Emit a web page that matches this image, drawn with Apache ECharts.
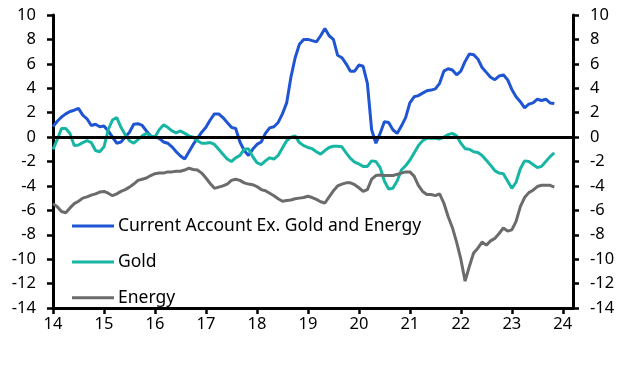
<!DOCTYPE html>
<html>
<head>
<meta charset="utf-8">
<script src="https://cdn.jsdelivr.net/npm/echarts@6/dist/echarts.min.js"></script>
<style>html,body{margin:0;padding:0;background:#fff}#c{width:633px;height:365px}</style>
</head>
<body>
<div id="c"></div>
<script>
const startYear = 14; // Jan 2014, monthly observations
const seriesNames = ['Current Account Ex. Gold and Energy', 'Gold', 'Energy'];
const xTickLabels = [14, 15, 16, 17, 18, 19, 20, 21, 22, 23, 24];
const yTickValues = [-14, -12, -10, -8, -6, -4, -2, 0, 2, 4, 6, 8, 10];

const currentAccount = [
  0.85, 1.3, 1.65, 1.9, 2.1, 2.2, 2.35, 1.8, 1.5, 0.95, 1.05, 0.85,
  0.9, 0.5, 0.0, -0.5, -0.4, 0.0, 0.4, 1.05, 1.1, 0.95, 0.5, 0.1,
  0.0, -0.1, -0.4, -0.5, -0.8, -1.2, -1.55, -1.8, -1.2, -0.6, -0.1, 0.4,
  0.8, 1.4, 1.9, 1.9, 1.6, 1.2, 0.8, 0.7, -0.4, -1.1, -1.5, -1.0,
  -0.6, -0.4, 0.3, 0.75, 0.85, 1.2, 1.9, 2.8, 4.9, 6.5, 7.6, 8.0,
  8.0, 7.9, 7.8, 8.3, 8.9, 8.3, 8.0, 6.7, 6.5, 6.0, 5.4, 5.4,
  5.9, 5.8, 4.4, 0.6, -0.5, 0.3, 1.25, 1.2, 0.6, 0.3, 0.9, 1.6,
  2.8, 3.3, 3.4, 3.6, 3.8, 3.85, 3.95, 4.4, 5.4, 5.6, 5.5, 5.1,
  5.4, 6.2, 6.8, 6.75, 6.4, 5.7, 5.3, 4.9, 4.7, 5.0, 5.1, 4.7,
  3.9, 3.3, 2.9, 2.4, 2.7, 2.8, 3.1, 3.0, 3.1, 2.8, 2.75
];
const gold = [
  -1.0, -0.2, 0.7, 0.7, 0.3, -0.7, -0.65, -0.45, -0.3, -0.45, -1.1, -1.2,
  -0.8, 0.6, 1.4, 1.6, 0.8, 0.2, -0.3, -0.5, -0.2, 0.1, 0.3, 0.1,
  0.0, 0.6, 1.0, 0.8, 0.5, 0.35, 0.5, 0.3, 0.1, 0.0, -0.3, -0.5,
  -0.5, -0.45, -0.6, -1.0, -1.4, -1.8, -2.0, -1.7, -1.5, -1.0, -0.95, -1.6,
  -2.1, -2.25, -1.95, -1.7, -1.8, -1.5, -0.9, -0.3, 0.0, 0.1, -0.45, -0.7,
  -0.85, -0.95, -1.2, -1.4, -1.1, -0.85, -0.75, -0.75, -0.8, -1.3, -1.75, -2.05,
  -2.2, -2.4, -2.4, -1.95, -2.0, -2.5, -3.6, -4.25, -4.2, -3.6, -2.7, -2.35,
  -1.9, -1.3, -0.7, -0.3, -0.1, -0.1, -0.1, -0.15, 0.0, 0.2, 0.3, 0.1,
  -0.5, -0.95, -1.0, -1.2, -1.27, -1.5, -1.9, -2.3, -2.75, -2.95, -3.0, -3.6,
  -4.2, -3.7, -2.6, -1.95, -2.0, -2.25, -2.5, -2.4, -2.0, -1.6, -1.3
];
const energy = [
  -5.45, -5.7, -6.1, -6.2, -5.8, -5.45, -5.25, -5.0, -4.9, -4.75, -4.65, -4.5,
  -4.45, -4.6, -4.8, -4.65, -4.45, -4.3, -4.1, -3.85, -3.55, -3.45, -3.35, -3.15,
  -3.0, -2.95, -2.95, -2.85, -2.85, -2.8, -2.8, -2.7, -2.55, -2.65, -2.7, -2.95,
  -3.35, -3.8, -4.2, -4.1, -4.0, -3.85, -3.55, -3.45, -3.55, -3.75, -3.85, -3.9,
  -4.05, -4.3, -4.4, -4.6, -4.8, -5.05, -5.25, -5.2, -5.15, -5.05, -5.0, -4.95,
  -4.85, -4.95, -5.1, -5.3, -5.4, -4.9, -4.4, -4.0, -3.85, -3.75, -3.75, -3.9,
  -4.15, -4.45, -4.3, -3.45, -3.15, -3.1, -3.15, -3.15, -3.15, -3.05, -2.95, -2.85,
  -2.85, -3.2, -3.95, -4.45, -4.7, -4.7, -4.8, -4.65, -5.4, -6.5, -7.4, -8.6,
  -10.0, -11.8, -10.6, -9.5, -9.1, -8.6, -8.85, -8.5, -8.3, -7.9, -7.45, -7.7,
  -7.6, -6.9, -5.7, -4.95, -4.55, -4.35, -4.05, -3.95, -3.95, -3.95, -4.1
];

function toPairs(arr) { return arr.map((v, i) => [startYear + i / 12, v]); }

const colors = ['#1f55d3', '#17b6a4', '#6b6b6b'];
const FONT = 'Noto Sans';

const yAxisCommon = {
  type: 'value', min: -14, max: 10, interval: 2,
  axisLine: { show: true, lineStyle: { color: '#000', width: 3 } },
  axisTick: { show: true, inside: false, length: 6, lineStyle: { color: '#000', width: 2.5 } },
  axisLabel: { color: '#000', fontFamily: FONT, fontSize: 16.5, margin: 17 },
  splitLine: { show: false }
};

const chart = echarts.init(document.getElementById('c'), null, { renderer: 'canvas' });
chart.setOption({
  animation: false,
  backgroundColor: '#fff',
  color: colors,
  grid: { left: 53, right: 60, top: 15, bottom: 57, containLabel: false },
  legend: {
    orient: 'vertical', left: 67, top: 212,
    icon: 'rect', itemWidth: 42, itemHeight: 3, itemGap: 17.9,
    textStyle: { color: '#000', fontFamily: FONT, fontSize: 17.5, lineHeight: 16, padding: [0, 0, 0, -1] },
    data: seriesNames
  },
  xAxis: {
    type: 'value', min: 14, max: 24.2,
    axisLine: { show: true, onZero: false, lineStyle: { color: '#000', width: 3 } },
    axisTick: { show: true, length: 6, lineStyle: { color: '#000', width: 2.5 }, customValues: xTickLabels },
    axisLabel: { color: '#000', fontFamily: FONT, fontSize: 16.5, margin: 8, customValues: xTickLabels },
    splitLine: { show: false }
  },
  yAxis: [
    Object.assign({ position: 'left' }, yAxisCommon),
    Object.assign({ position: 'right' }, yAxisCommon)
  ],
  series: [
    {
      name: seriesNames[0], type: 'line', data: toPairs(currentAccount), showSymbol: false,
      lineStyle: { width: 3 }, z: 3,
      markLine: {
        silent: true, symbol: ['none', 'none'], label: { show: false },
        lineStyle: { color: '#000', width: 3, type: 'solid' },
        data: [{ yAxis: 0 }]
      }
    },
    { name: seriesNames[1], type: 'line', data: toPairs(gold), showSymbol: false, lineStyle: { width: 3 }, z: 3 },
    { name: seriesNames[2], type: 'line', data: toPairs(energy), showSymbol: false, lineStyle: { width: 3 }, z: 3 }
  ]
});
</script>
</body>
</html>
